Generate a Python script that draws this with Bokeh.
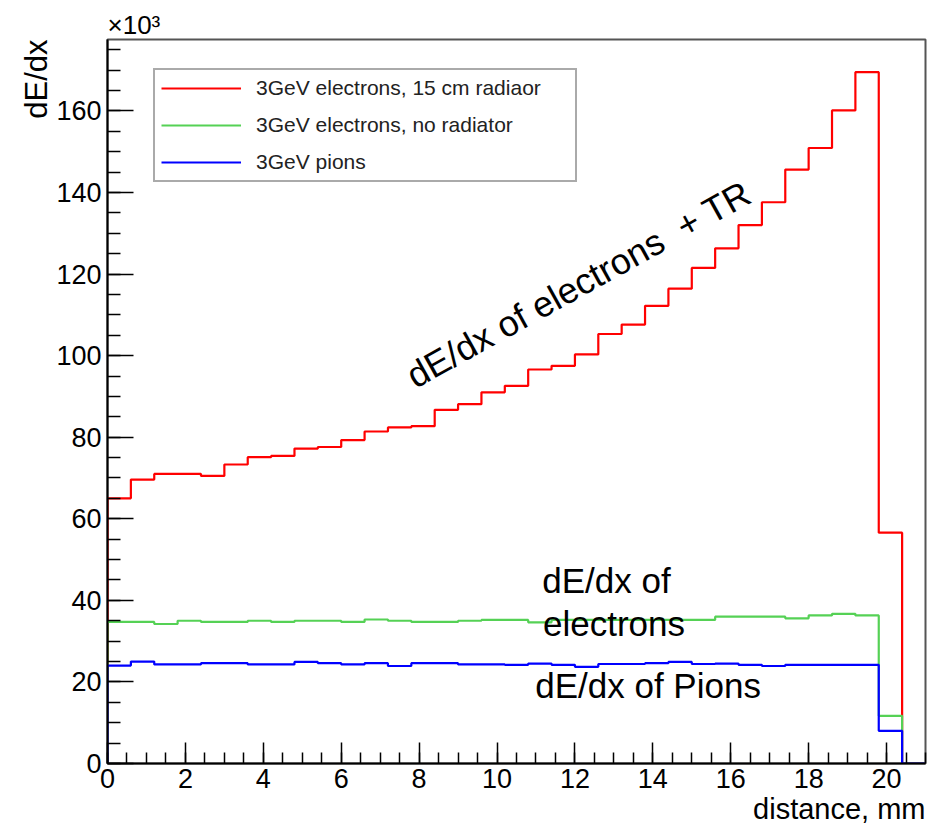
import math
from bokeh.plotting import figure
from bokeh.models import Range1d, FixedTicker, Label, Legend, LegendItem, Title
from bokeh.embed import file_html
from bokeh.resources import INLINE

# ---- data ----
bin_width = 0.6
n_bins = 35
x_edges = [round(bin_width * i, 1) for i in range(n_bins + 1)]  # 0 .. 21 mm

red_tr = [65.0, 69.6, 71.0, 71.0, 70.5, 73.3, 75.1, 75.4, 77.2, 77.6,
          79.3, 81.4, 82.4, 82.7, 86.7, 88.1, 91.0, 92.6, 96.6, 97.5,
          100.3, 105.3, 107.6, 112.2, 116.4, 121.5, 126.3, 132.0, 137.6, 145.6,
          150.9, 160.1, 169.5, 56.6, 0.0]
green_norad = [34.7, 34.7, 34.2, 35.0, 34.7, 34.7, 35.0, 34.7, 35.0, 35.0,
               34.7, 35.3, 35.0, 34.7, 34.7, 35.0, 35.2, 35.2, 34.6, 35.2,
               35.2, 35.2, 35.2, 35.2, 35.2, 35.2, 36.0, 36.0, 36.0, 35.6,
               36.3, 36.7, 36.3, 11.7, 0.0]
blue_pions = [24.0, 25.0, 24.3, 24.3, 24.6, 24.6, 24.3, 24.3, 24.9, 24.6,
              24.3, 24.6, 23.9, 24.6, 24.6, 24.3, 24.3, 24.2, 24.5, 24.2,
              23.7, 24.4, 24.4, 24.6, 24.9, 24.4, 24.5, 24.2, 23.9, 24.2,
              24.2, 24.2, 24.2, 8.0, 0.0]

series_names = ["3GeV electrons, 15 cm radiaor",
                "3GeV electrons, no radiator",
                "3GeV pions"]
series_colors = ["#ff0000", "#55d155", "#0000ff"]

x_ticks = [0, 2, 4, 6, 8, 10, 12, 14, 16, 18, 20]
x_minor = [i * 0.5 for i in range(43)]
y_ticks = [0, 20, 40, 60, 80, 100, 120, 140, 160]
y_minor = [i * 5 for i in range(36)]

FONT = "Liberation Sans"

p = figure(width=951, height=825,
           x_range=Range1d(0, 21), y_range=Range1d(0, 177.5),
           output_backend="svg", toolbar_location=None,
           min_border_left=107, min_border_right=26,
           min_border_top=39, min_border_bottom=62)
p.xgrid.visible = False
p.ygrid.visible = False
p.background_fill_color = "white"
p.border_fill_color = "white"
p.outline_line_color = "#555555"
p.outline_line_width = 2

# multiplier shown as the top title
p.title.text = "\u00d710\u00b3"
p.title.align = "left"
p.title.text_font = FONT
p.title.text_font_size = "26px"
p.title.text_font_style = "normal"
p.title.text_color = "black"
p.title.standoff = 0

renderers = []
for vals, col in zip([red_tr, green_norad, blue_pions], series_colors):
    xs = [0.0] + x_edges
    ys = [0.0] + vals + [vals[-1]]
    r = p.step(xs, ys, mode="after", line_color=col, line_width=2.2)
    renderers.append(r)

# axes
p.xaxis.ticker = FixedTicker(ticks=x_ticks, minor_ticks=x_minor)
p.yaxis.ticker = FixedTicker(ticks=y_ticks, minor_ticks=y_minor)
for ax in (p.xaxis, p.yaxis):
    ax.axis_line_color = "black"
    ax.axis_line_width = 2
    ax.major_tick_line_color = "black"
    ax.minor_tick_line_color = "black"
    ax.major_tick_line_width = 1.5
    ax.minor_tick_line_width = 1.5
    ax.major_tick_out = 0
    ax.minor_tick_out = 0
    ax.major_label_text_font = FONT
    ax.major_label_text_font_size = "27px"
    ax.major_label_text_color = "black"
p.xaxis.major_label_standoff = 5
p.yaxis.major_label_standoff = 6
p.xaxis.major_tick_in = 21
p.xaxis.minor_tick_in = 11
p.yaxis.major_tick_in = 26
p.yaxis.minor_tick_in = 13

# axis titles (ROOT style: aligned to the far end of the axis)
p.add_layout(Title(text="dE/dx", align="right", text_font=FONT,
                   text_font_size="31px", text_font_style="normal",
                   text_color="black", standoff=0), "left")
p.add_layout(Title(text="distance, mm", align="right", text_font=FONT,
                   text_font_size="29px", text_font_style="normal",
                   text_color="black", standoff=0), "below")

# legend
items = [LegendItem(label=n, renderers=[r]) for n, r in zip(series_names, renderers)]
legend = Legend(items=items, location=(46, 581), margin=0, padding=6,
                spacing=13, glyph_width=80, glyph_height=20, label_height=20,
                label_standoff=15, label_width=313,
                label_text_font=FONT, label_text_font_size="21px",
                label_text_color="#222222",
                border_line_color="#555555", border_line_width=2,
                background_fill_color="white", background_fill_alpha=1)
p.add_layout(legend)

# annotations
p.add_layout(Label(x=7.75, y=94.5, text="dE/dx of electrons \u00a0+ TR",
                   angle=math.radians(29), text_font=FONT,
                   text_baseline="alphabetic",
                   text_font_size="36px", text_color="black"))
p.add_layout(Label(x=11.16, y=44.9, text="dE/dx of", text_font=FONT,
                   text_baseline="alphabetic",
                   text_font_size="35px", text_color="black"))
p.add_layout(Label(x=11.18, y=34.3, text="electrons", text_font=FONT,
                   text_baseline="alphabetic",
                   text_font_size="35px", text_color="black"))
p.add_layout(Label(x=10.98, y=19.2, text="dE/dx of Pions", text_font=FONT,
                   text_baseline="alphabetic",
                   text_font_size="35px", text_color="black"))

open("out.html", "w").write(file_html(p, INLINE))
